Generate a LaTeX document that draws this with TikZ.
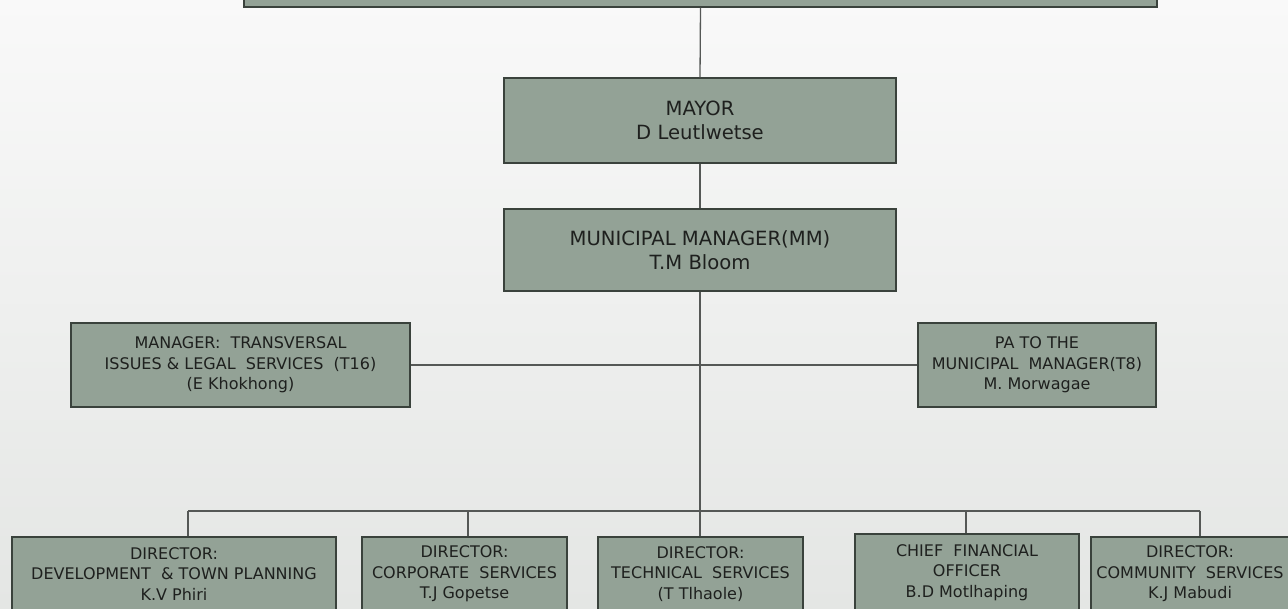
\documentclass[tikz,border=0pt]{standalone}
\usepackage{fontspec}
\setmainfont{DejaVu Sans}
\usetikzlibrary{shadows}
\definecolor{boxfill}{RGB}{147,162,150}
\definecolor{boxline}{RGB}{58,66,60}
\definecolor{connc}{RGB}{85,88,86}
\definecolor{txt}{RGB}{30,32,30}
\definecolor{bgtop}{RGB}{249,249,249}
\definecolor{bgbot}{RGB}{228,230,228}
\begin{document}
\begin{tikzpicture}[x=1pt,y=-1pt,
  box/.style={draw=boxline, line width=1.4pt, fill=boxfill, text=txt, inner sep=0pt, align=center,
    drop shadow={shadow xshift=1.2pt, shadow yshift=-1.2pt, opacity=0.25}},
  big/.style={box, font=\fontsize{19.6}{24}\selectfont},
  small/.style={box, font=\fontsize{16}{20.5}\selectfont},
  conn/.style={draw=connc, line width=1.3pt}]
\useasboundingbox (0,0) rectangle (1288,608);
\shade[top color=bgtop, bottom color=bgbot] (0,0) rectangle (1288,608);

\node[box, minimum width=913pt, minimum height=44pt] (top) at (700.5,-15) {};
\node[big, minimum width=392pt, minimum height=85pt] (mayor) at (700,120.5) {MAYOR\\D Leutlwetse};
\node[big, minimum width=392pt, minimum height=82pt] (mm) at (700,250) {MUNICIPAL MANAGER(MM)\\T.M Bloom};
\node[small, minimum width=339pt, minimum height=84pt] (mgr) at (240.5,365) {MANAGER:\ \ TRANSVERSAL\\ISSUES \& LEGAL\ \ SERVICES\ \ (T16)\\(E Khokhong)};
\node[small, minimum width=238pt, minimum height=84pt] (pa) at (1037,365) {PA TO THE\\MUNICIPAL\ \ MANAGER(T8)\\M. Morwagae};
\node[small, minimum width=324pt, minimum height=74pt] (d1) at (174,574) {DIRECTOR:\\DEVELOPMENT\ \ \& TOWN PLANNING\\K.V Phiri};
\node[small, minimum width=205pt, minimum height=74pt] (d2) at (464.5,574) {DIRECTOR:\\CORPORATE\ \ SERVICES\\T.J Gopetse};
\node[small, minimum width=205pt, minimum height=74pt] (d3) at (700.5,574) {DIRECTOR:\\TECHNICAL\ \ SERVICES\\(T Tlhaole)};
\node[small, minimum width=224pt, minimum height=77pt] (d4) at (967,572.5) {CHIEF\ \ FINANCIAL\\OFFICER\\B.D Motlhaping};
\node[small, minimum width=198pt, minimum height=74pt] (d5) at (1190,574) {DIRECTOR:\\COMMUNITY\ \ SERVICES\\K.J Mabudi};

\coordinate (b1) at (188,511);
\coordinate (b2) at (468,511);
\coordinate (b3) at (700,511);
\coordinate (b4) at (966,511);
\coordinate (b5) at (1200,511);

\draw[conn] (top.south) -- (mayor.north);
\draw[conn] (mayor.south) -- (mm.north);
\draw[conn] (mm.south) -- (b3);
\draw[conn] (mgr.east) -- (pa.west);
\draw[conn] (b1) -- (b5);
\draw[conn] (b1) -- (b1 |- d1.north);
\draw[conn] (b2) -- (b2 |- d2.north);
\draw[conn] (b3) -- (b3 |- d3.north);
\draw[conn] (b4) -- (b4 |- d4.north);
\draw[conn] (b5) -- (b5 |- d5.north);
\end{tikzpicture}
\end{document}
